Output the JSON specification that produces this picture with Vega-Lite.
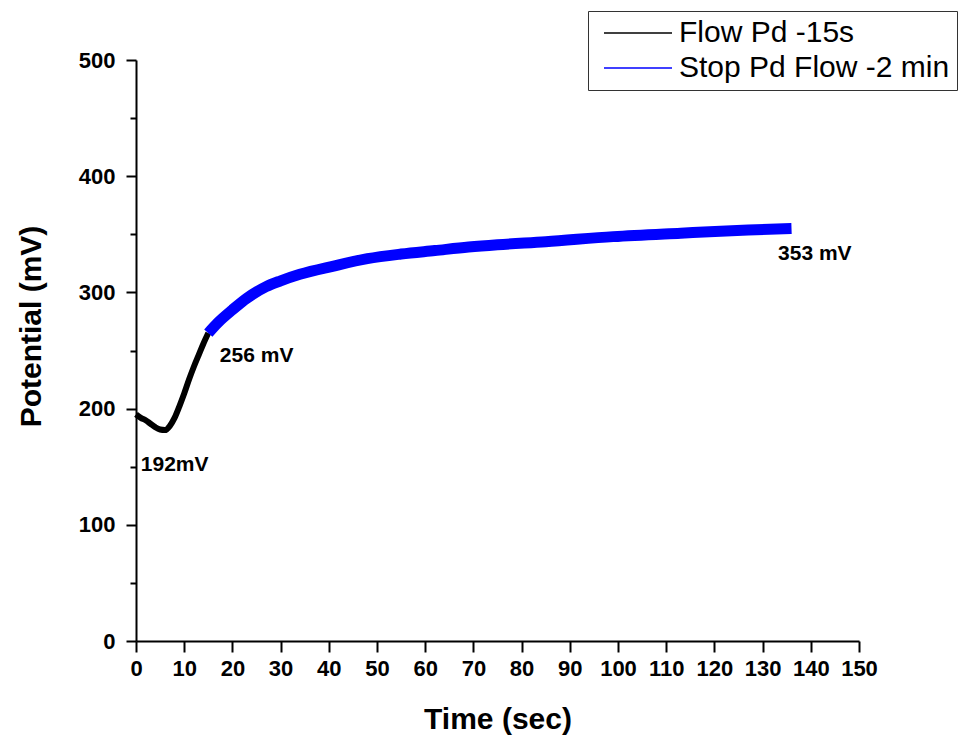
{
  "$schema": "https://vega.github.io/schema/vega-lite/v6.json",
  "width": 723,
  "height": 581,
  "autosize": {"type": "none"},
  "padding": {"left": 136, "top": 60, "right": 105, "bottom": 97},
  "background": "white",
  "config": {
    "font": "Liberation Sans",
    "view": {"stroke": null},
    "axis": {
      "grid": false,
      "domainColor": "black",
      "domainWidth": 2,
      "tickColor": "black",
      "tickWidth": 2,
      "labelColor": "black",
      "labelFont": "Liberation Sans",
      "labelFontWeight": "bold",
      "labelFontSize": 22,
      "labelFlush": false,
      "labelOverlap": false,
      "titleColor": "black",
      "titleFont": "Liberation Sans",
      "titleFontWeight": "bold",
      "titleFontSize": 30
    }
  },
  "datasets": {
    "curves": [
      {"t": 0, "v": 195, "series": "Flow Pd -15s"},
      {"t": 1, "v": 192, "series": "Flow Pd -15s"},
      {"t": 2, "v": 190, "series": "Flow Pd -15s"},
      {"t": 3, "v": 187, "series": "Flow Pd -15s"},
      {"t": 4, "v": 184, "series": "Flow Pd -15s"},
      {"t": 5, "v": 182, "series": "Flow Pd -15s"},
      {"t": 6, "v": 181.5, "series": "Flow Pd -15s"},
      {"t": 7, "v": 185, "series": "Flow Pd -15s"},
      {"t": 8, "v": 192, "series": "Flow Pd -15s"},
      {"t": 9, "v": 202, "series": "Flow Pd -15s"},
      {"t": 10, "v": 213, "series": "Flow Pd -15s"},
      {"t": 11, "v": 225, "series": "Flow Pd -15s"},
      {"t": 12, "v": 236, "series": "Flow Pd -15s"},
      {"t": 13, "v": 246, "series": "Flow Pd -15s"},
      {"t": 14, "v": 256, "series": "Flow Pd -15s"},
      {"t": 15, "v": 265, "series": "Flow Pd -15s"},
      {"t": 15, "v": 265, "series": "Stop Pd Flow -2 min"},
      {"t": 17, "v": 274, "series": "Stop Pd Flow -2 min"},
      {"t": 20, "v": 285, "series": "Stop Pd Flow -2 min"},
      {"t": 23, "v": 295, "series": "Stop Pd Flow -2 min"},
      {"t": 27, "v": 305, "series": "Stop Pd Flow -2 min"},
      {"t": 30, "v": 310, "series": "Stop Pd Flow -2 min"},
      {"t": 34, "v": 315.6, "series": "Stop Pd Flow -2 min"},
      {"t": 41, "v": 322.7, "series": "Stop Pd Flow -2 min"},
      {"t": 48, "v": 329, "series": "Stop Pd Flow -2 min"},
      {"t": 55, "v": 333, "series": "Stop Pd Flow -2 min"},
      {"t": 62, "v": 336, "series": "Stop Pd Flow -2 min"},
      {"t": 69, "v": 339, "series": "Stop Pd Flow -2 min"},
      {"t": 75, "v": 341, "series": "Stop Pd Flow -2 min"},
      {"t": 85, "v": 343.6, "series": "Stop Pd Flow -2 min"},
      {"t": 99, "v": 348, "series": "Stop Pd Flow -2 min"},
      {"t": 113, "v": 351, "series": "Stop Pd Flow -2 min"},
      {"t": 127, "v": 353.7, "series": "Stop Pd Flow -2 min"},
      {"t": 136, "v": 355, "series": "Stop Pd Flow -2 min"}
    ],
    "notes": [
      {"t": 1.0, "v": 146, "label": "192mV"},
      {"t": 17.4, "v": 240, "label": "256 mV"},
      {"t": 133.2, "v": 328, "label": "353 mV"}
    ]
  },
  "layer": [
    {
      "data": {"name": "curves"},
      "transform": [{"filter": "datum.series === 'Flow Pd -15s'"}],
      "mark": {"type": "line", "interpolate": "monotone", "strokeWidth": 6, "strokeCap": "butt"},
      "encoding": {
        "x": {
          "field": "t",
          "type": "quantitative",
          "scale": {"domain": [0, 150], "nice": false},
          "axis": {
            "title": "Time (sec)",
            "values": [0, 5, 10, 15, 20, 25, 30, 35, 40, 45, 50, 55, 60, 65, 70, 75, 80, 85, 90, 95, 100, 105, 110, 115, 120, 125, 130, 135, 140, 145, 150],
            "labelExpr": "datum.value % 10 === 0 ? datum.label : ''",
            "tickSize": {"condition": {"test": "datum.value % 10 === 0", "value": 11}, "value": 6},
            "labelPadding": 6,
            "titleBaseline": "alphabetic",
            "titleY": 87
          }
        },
        "y": {
          "field": "v",
          "type": "quantitative",
          "scale": {"domain": [0, 500], "nice": false},
          "axis": {
            "title": "Potential (mV)",
            "values": [0, 50, 100, 150, 200, 250, 300, 350, 400, 450, 500],
            "labelExpr": "datum.value % 100 === 0 ? datum.label : ''",
            "tickSize": {"condition": {"test": "datum.value % 100 === 0", "value": 10}, "value": 6},
            "labelPadding": 11,
            "titleAngle": 270,
            "titleBaseline": "alphabetic",
            "titleX": -96,
            "titleY": 266
          }
        },
        "color": {
          "field": "series",
          "type": "nominal",
          "scale": {"domain": ["Flow Pd -15s", "Stop Pd Flow -2 min"], "range": ["#000000", "#0000ff"]},
          "legend": {
            "title": null,
            "orient": "none",
            "legendX": 452,
            "legendY": -49,
            "strokeColor": "#333333",
            "fillColor": "white",
            "padding": 7,
            "symbolOffset": 28,
            "labelOffset": 26,
            "labelFontSize": 30,
            "labelFont": "Liberation Sans",
            "labelFontWeight": "normal",
            "labelColor": "black",
            "labelLimit": 400,
            "rowPadding": 5,
            "symbolType": "M-5,0H5",
            "symbolSize": 185,
            "symbolStrokeWidth": 1.5
          }
        }
      }
    },
    {
      "data": {"name": "curves"},
      "transform": [{"filter": "datum.series === 'Stop Pd Flow -2 min'"}],
      "mark": {"type": "line", "interpolate": "monotone", "strokeWidth": 11, "strokeCap": "butt"},
      "encoding": {
        "x": {"field": "t", "type": "quantitative"},
        "y": {"field": "v", "type": "quantitative"},
        "color": {"field": "series", "type": "nominal"}
      }
    },
    {
      "data": {"name": "notes"},
      "mark": {"type": "text", "align": "left", "baseline": "alphabetic", "fontSize": 21, "fontWeight": "bold", "font": "Liberation Sans", "color": "black"},
      "encoding": {
        "x": {"field": "t", "type": "quantitative"},
        "y": {"field": "v", "type": "quantitative"},
        "text": {"field": "label", "type": "nominal"}
      }
    }
  ]
}
